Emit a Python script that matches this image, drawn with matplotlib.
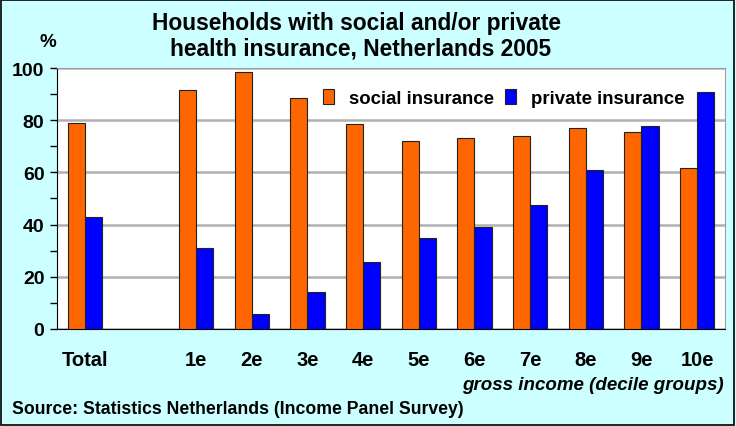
import matplotlib
matplotlib.use("Agg")
import matplotlib.pyplot as plt
from matplotlib.patches import Rectangle
import numpy as np

plt.rcParams['font.family'] = ['Liberation Sans', 'DejaVu Sans']

categories = ["Total", "", "1e", "2e", "3e", "4e", "5e", "6e", "7e", "8e", "9e", "10e"]
social = [79, np.nan, 91.5, 98.5, 88.5, 78.5, 72, 73, 74, 77, 75.3, 61.5]
private = [43, np.nan, 31, 5.7, 14.2, 25.5, 35, 39, 47.5, 61, 77.8, 90.8]

BG = "#CCFFFF"; ORANGE = "#FF6600"; BLUE = "#0000FF"

fig = plt.figure(figsize=(7.36, 4.27), dpi=100)
fig.patch.set_facecolor(BG)
fig.patches.append(Rectangle((0.002, 0.003), 0.995, 0.994, transform=fig.transFigure,
                             fill=False, edgecolor="black", lw=1.2))
ax = fig.add_axes([0.0774, 0.2272, 0.9076, 0.6112])
ax.set_facecolor("white")

x = np.arange(len(categories)); w = 0.31
ax.bar(x - w/2, social, w, color=ORANGE, edgecolor="#222222", lw=0.8, label="social insurance", zorder=3)
ax.bar(x + w/2, private, w, color=BLUE, edgecolor="#222222", lw=0.8, label="private insurance", zorder=3)

ax.set_xlim(-0.5, len(categories) - 0.5)
ax.set_ylim(0, 100)
ax.set_yticks(range(0, 101, 20))
ax.set_yticks(range(10, 100, 20), minor=True)
ax.yaxis.grid(True, color="#b0b0b0", lw=1.8, zorder=0)
ax.tick_params(axis="y", which="both", direction="out", length=5, width=1, labelsize=14, pad=4)
for t in ax.get_yticklabels(): t.set_fontweight("bold")
ax.set_xticks(x)
ax.set_xticklabels(categories, fontsize=14.5, fontweight="bold")
ax.tick_params(axis="x", length=0, pad=15)
for s in ("top", "right"):
    ax.spines[s].set_color("#a0a0a0")
ax.spines["left"].set_color("black"); ax.spines["bottom"].set_color("black")

ax.legend(loc="upper right", bbox_to_anchor=(0.965, 0.982), ncol=2, frameon=False,
          prop=dict(size=13.4, weight="bold"), handlelength=0.6, handleheight=0.8,
          handletextpad=0.8, columnspacing=0.6)

fig.text(0.485, 0.945, "Households with social and/or private", ha="center", va="center",
         fontsize=16.4, fontweight="bold")
fig.text(0.49, 0.885, "health insurance, Netherlands 2005", ha="center", va="center",
         fontsize=16.4, fontweight="bold")
fig.text(0.065, 0.9, "%", ha="center", va="center", fontsize=13.5, fontweight="bold")
fig.text(0.983, 0.098, "gross income (decile groups)", ha="right", va="center",
         fontsize=13.5, fontweight="bold", style="italic")
fig.text(0.016, 0.042, "Source: Statistics Netherlands (Income Panel Survey)", ha="left",
         va="center", fontsize=12.7, fontweight="bold")

fig.savefig("out.png", dpi=100, facecolor=BG)
